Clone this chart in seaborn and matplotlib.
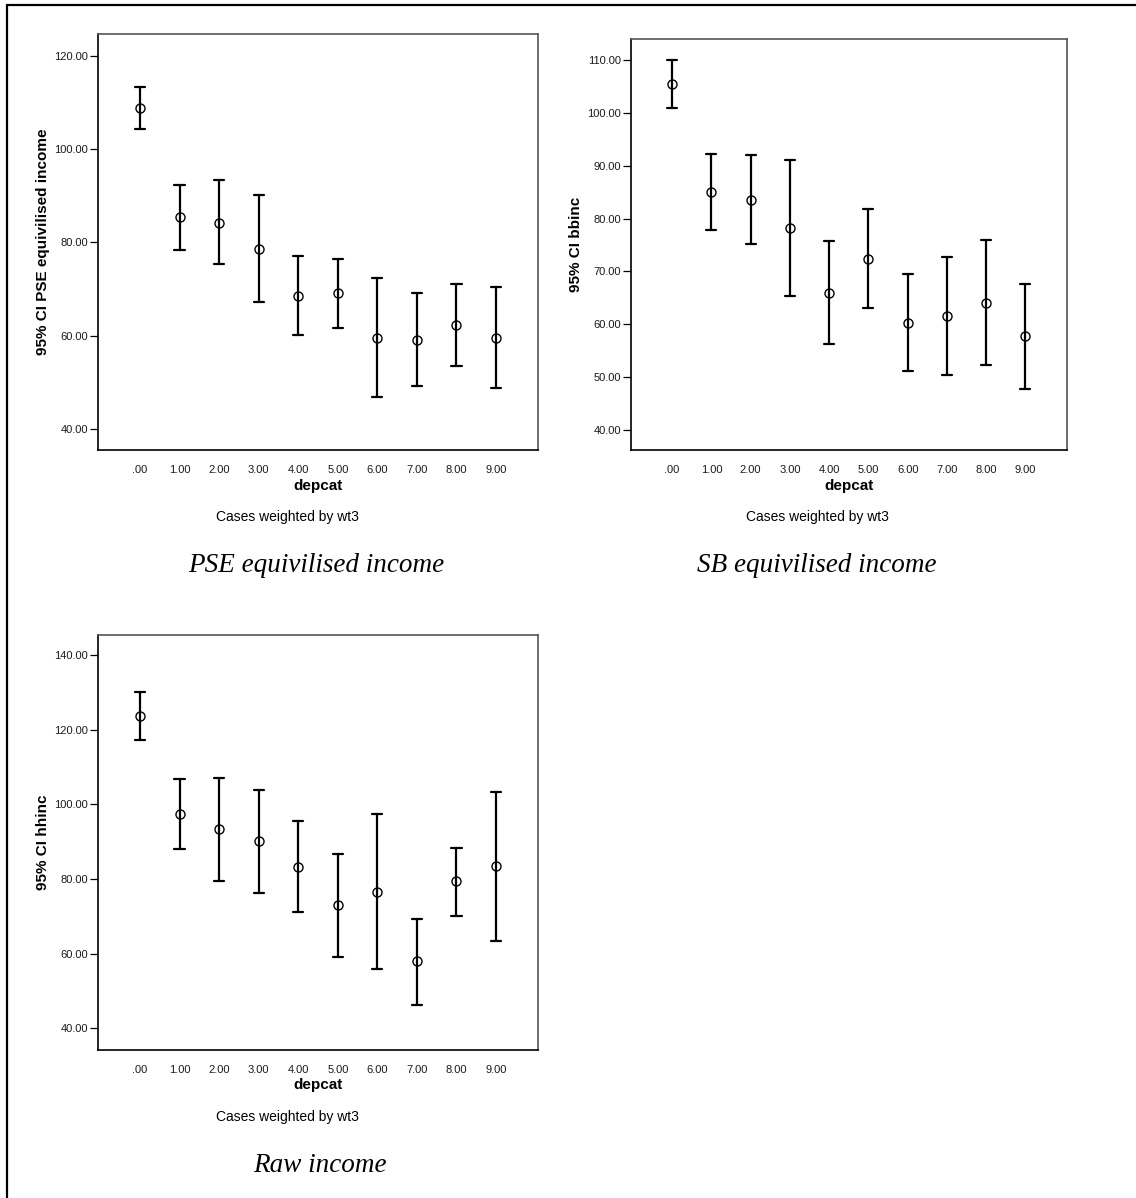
import numpy as np
import pandas as pd
import matplotlib
matplotlib.use("Agg")
import matplotlib.pyplot as plt
from matplotlib.lines import Line2D
import seaborn as sns

# ---------------- data ----------------
categories = [".00", "1.00", "2.00", "3.00", "4.00", "5.00", "6.00", "7.00", "8.00", "9.00"]

pse_mean = [108.9, 85.4, 84.2, 78.7, 68.6, 69.1, 59.5, 59.1, 62.3, 59.5]
pse_low  = [104.3, 78.3, 75.3, 67.2, 60.1, 61.7, 46.8, 49.2, 53.5, 48.8]
pse_high = [113.4, 92.4, 93.3, 90.2, 77.1, 76.5, 72.3, 69.1, 71.0, 70.5]

sb_mean = [105.5, 85.0, 83.5, 78.2, 65.9, 72.4, 60.3, 61.5, 64.1, 57.8]
sb_low  = [100.9, 77.9, 75.2, 65.4, 56.3, 63.1, 51.1, 50.4, 52.3, 47.8]
sb_high = [110.0, 92.2, 92.0, 91.1, 75.8, 81.8, 69.5, 72.7, 75.9, 67.7]

raw_mean = [123.6, 97.4, 93.3, 90.1, 83.3, 73.0, 76.6, 58.0, 79.4, 83.4]
raw_low  = [117.3, 88.1, 79.6, 76.3, 71.2, 59.1, 55.9, 46.3, 70.2, 63.4]
raw_high = [130.0, 106.7, 107.2, 103.9, 95.5, 86.8, 97.5, 69.4, 88.4, 103.4]

pse_ticks = [40, 60, 80, 100, 120]
sb_ticks = [40, 50, 60, 70, 80, 90, 100, 110]
raw_ticks = [40, 60, 80, 100, 120, 140]

ylabels = ["95% CI PSE equivilised income", "95% CI bbinc", "95% CI hhinc"]
titles = ["PSE equivilised income", "SB equivilised income", "Raw income"]
xlabel = "depcat"
note = "Cases weighted by wt3"

# ---------------- style ----------------
sns.set_theme(style="white")
plt.rcParams["font.family"] = ["Liberation Sans", "DejaVu Sans"]
plt.rcParams["text.color"] = "black"
plt.rcParams["axes.labelcolor"] = "black"

W, H = 1136, 1198
fig = plt.figure(figsize=(W / 100, H / 100), dpi=100)


def px_ax(left, top, right, bottom):
    return fig.add_axes([left / W, 1 - bottom / H, (right - left) / W, (bottom - top) / H])


def long_table(mean, low, high):
    rows = []
    for c, m, lo, hi in zip(categories, mean, low, high):
        rows += [(c, lo), (c, m), (c, hi)]
    return pd.DataFrame(rows, columns=["depcat", "value"])


def draw(ax, mean, low, high, ylim, yticks, ylab, ylab_x):
    df = long_table(mean, low, high)
    sns.pointplot(
        data=df, x="depcat", y="value", order=categories, ax=ax,
        estimator="median", errorbar=lambda v: (np.min(v), np.max(v)),
        color="black", linestyle="none", marker="o",
        markersize=6.5, markeredgewidth=1.0, markerfacecolor="none",
        capsize=0.26, err_kws={"linewidth": 1.6},
    )
    ax.set_xlim(-1.06, 10.06)
    ax.set_ylim(*ylim)
    ax.set_yticks(yticks)
    ax.set_yticklabels([f"{t:.2f}" for t in yticks])
    ax.tick_params(axis="y", length=6, width=0.9, color="black", pad=1,
                   labelsize=8, labelcolor="#1a1a1a", left=True)
    ax.tick_params(axis="x", length=0, pad=11, labelsize=8, labelcolor="#1a1a1a")
    for s in ["left", "bottom"]:
        ax.spines[s].set_color("black")
        ax.spines[s].set_linewidth(1.2)
    for s in ["top", "right"]:
        ax.spines[s].set_color("#555555")
        ax.spines[s].set_linewidth(1.2)
    ax.set_xlabel(xlabel, fontsize=11, fontweight="bold", va="center", color="black")
    ax.set_ylabel(ylab, fontsize=11, fontweight="bold", va="center", color="black")
    ax.yaxis.set_label_coords(ylab_x, 0.5)
    ax.grid(False)


ax1 = px_ax(98, 34, 538, 450)
draw(ax1, pse_mean, pse_low, pse_high, (35.5, 124.7), pse_ticks, ylabels[0], -0.125)
ax1.xaxis.set_label_coords(0.5, -0.0865)

ax2 = px_ax(630.5, 39, 1067, 450)
draw(ax2, sb_mean, sb_low, sb_high, (36.2, 114.0), sb_ticks, ylabels[1], -0.124)
ax2.xaxis.set_label_coords(0.5, -0.0876)

ax3 = px_ax(98, 635, 538, 1050)
draw(ax3, raw_mean, raw_low, raw_high, (34.2, 145.4), raw_ticks, ylabels[2], -0.125)
ax3.xaxis.set_label_coords(0.5, -0.0855)


def ftext(x, y, s, **kw):
    fig.text(x / W, 1 - y / H, s, ha="center", va="center", color="black", **kw)


ftext(287, 517, note, fontsize=10)
ftext(817, 517, note, fontsize=10)
ftext(287.5, 1117.5, note, fontsize=10)

serif = ["Liberation Serif", "DejaVu Serif"]
ftext(316, 566, titles[0], fontsize=19.5, style="italic", family=serif)
ftext(817, 566, titles[1], fontsize=19.5, style="italic", family=serif)
ftext(320, 1166, titles[2], fontsize=19.5, style="italic", family=serif)

# outer frame (left and top edges visible in the reference)
fig.add_artist(Line2D([6.5 / W, 6.5 / W], [0, 1 - 5 / H], transform=fig.transFigure,
                      color="black", linewidth=1.6))
fig.add_artist(Line2D([6.5 / W, 1], [1 - 5 / H, 1 - 5 / H], transform=fig.transFigure,
                      color="black", linewidth=1.6))

fig.savefig("out.png", dpi=100, facecolor="white")
